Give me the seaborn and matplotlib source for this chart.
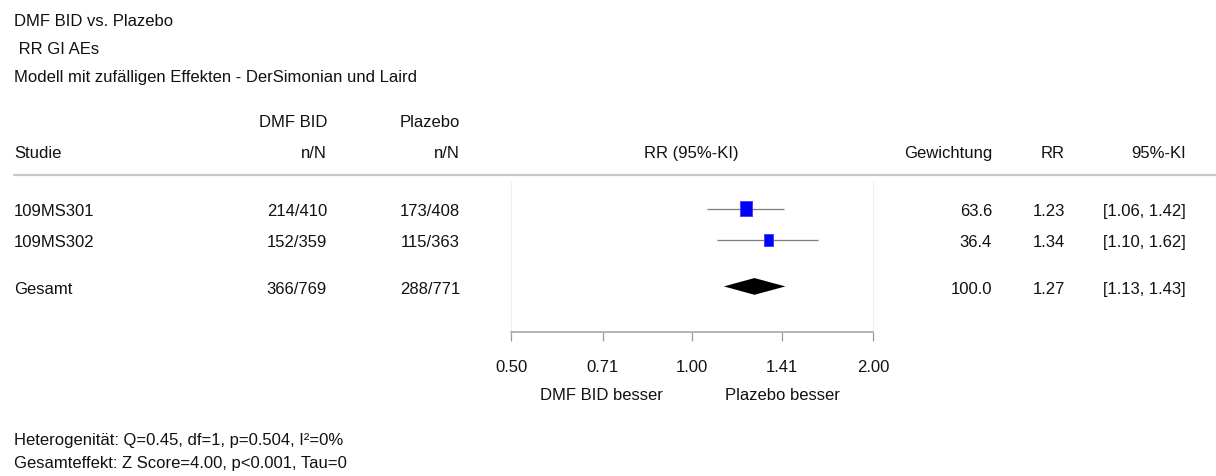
import matplotlib
matplotlib.use("Agg")
import matplotlib.pyplot as plt
from matplotlib.lines import Line2D
import numpy as np
import pandas as pd
import seaborn as sns

# ---- data ----
studies = ["109MS301", "109MS302"]
dmf_events = ["214/410", "152/359"]
plazebo_events = ["173/408", "115/363"]
weights = [63.6, 36.4]
rr = [1.23, 1.34]
ci_low = [1.06, 1.10]
ci_high = [1.42, 1.62]

pooled_label = "Gesamt"
pooled_dmf = "366/769"
pooled_plazebo = "288/771"
pooled_weight = 100.0
pooled_rr = 1.27
pooled_low = 1.13
pooled_high = 1.43

tick_values = [0.50, 0.71, 1.00, 1.41, 2.00]
tick_labels = ["0.50", "0.71", "1.00", "1.41", "2.00"]

title_lines = ["DMF BID vs. Plazebo", " RR GI AEs",
               "Modell mit zufälligen Effekten - DerSimonian und Laird"]
footer_lines = ["Heterogenität: Q=0.45, df=1, p=0.504, I²=0%",
                "Gesamteffekt: Z Score=4.00, p<0.001, Tau=0"]

# ---- style ----
sns.set_style("white")
plt.rcParams["font.family"] = ["Liberation Sans", "DejaVu Sans"]
FS = 12
W, H = 1216, 477

fig = plt.figure(figsize=(W / 100, H / 100), dpi=100)


def px(x, y):
    """Pixel position (from top-left) to figure fraction."""
    return x / W, 1 - y / H


def txt(x, y, s, ha="left"):
    fig.text(*px(x, y), s, ha=ha, va="baseline", fontsize=FS, color="#111111")


# titles
for i, line in enumerate(title_lines):
    txt(14, 26 + 28 * i, line)

# column headers
txt(327, 127, "DMF BID", "right")
txt(460, 127, "Plazebo", "right")
txt(14, 158, "Studie")
txt(327, 158, "n/N", "right")
txt(460, 158, "n/N", "right")
txt(691, 158, "RR (95%-KI)", "center")
txt(992, 158, "Gewichtung", "right")
txt(1065, 158, "RR", "right")
txt(1186, 158, "95%-KI", "right")

# header rule
fig.add_artist(Line2D([14 / W, 1.0], [1 - 176 / H] * 2, transform=fig.transFigure,
                      color="#c8c8c8", lw=1.6))

# table rows
row_base = [216, 247, 294]
names = studies + [pooled_label]
dmf_col = dmf_events + [pooled_dmf]
pla_col = plazebo_events + [pooled_plazebo]
w_col = weights + [pooled_weight]
rr_col = rr + [pooled_rr]
lo_col = ci_low + [pooled_low]
hi_col = ci_high + [pooled_high]
for yb, n, d, p, w, r, lo, hi in zip(row_base, names, dmf_col, pla_col,
                                     w_col, rr_col, lo_col, hi_col):
    txt(14, yb, n)
    txt(327, yb, d, "right")
    txt(460, yb, p, "right")
    txt(992, yb, f"{w:.1f}", "right")
    txt(1065, yb, f"{r:.2f}", "right")
    txt(1186, yb, f"[{lo:.2f}, {hi:.2f}]", "right")

# ---- forest panel ----
left, right, top, bottom = 511, 873, 182, 333
ax = fig.add_axes([left / W, 1 - bottom / H, (right - left) / W, (bottom - top) / H])
ax.set_xscale("log")
ax.set_xlim(tick_values[0], tick_values[-1])
ax.set_ylim(3.97, -0.9)

row_pos = [0, 1]
pooled_pos = 2.5

df = pd.DataFrame({"rr": rr, "pos": row_pos, "w": weights})
ax.hlines(row_pos, ci_low, ci_high, color="#7f7f7f", lw=0.9, zorder=1)
rect = [(-0.4, -0.5), (0.4, -0.5), (0.4, 0.5), (-0.4, 0.5), (-0.4, -0.5)]
sns.scatterplot(data=df, x="rr", y="pos", marker=rect, color="#0000ff",
                edgecolor="#3a3aff", linewidth=0.6, s=np.array(weights) * 1.8,
                ax=ax, zorder=2, legend=False)

dh = 0.27
ax.fill([pooled_low, pooled_rr, pooled_high, pooled_rr],
        [pooled_pos, pooled_pos - dh, pooled_pos, pooled_pos + dh],
        color="black", lw=0)

ax.set_xticks(tick_values)
ax.set_xticklabels(tick_labels)
ax.xaxis.set_minor_locator(matplotlib.ticker.NullLocator())
ax.set_yticks([])
ax.set_xlabel("")
ax.set_ylabel("")
ax.tick_params(axis="x", direction="out", length=6.5, width=0.9, color="#9a9a9a",
               pad=13, labelsize=FS, labelcolor="#111111", bottom=True)
for side in ("left", "right"):
    ax.spines[side].set_color("#f0f0f0")
    ax.spines[side].set_linewidth(0.9)
ax.spines["top"].set_visible(False)
ax.spines["bottom"].set_color("#a8a8a8")
ax.spines["bottom"].set_linewidth(1.2)
ax.patch.set_alpha(0)

txt(601, 400, "DMF BID besser", "center")
txt(782, 400, "Plazebo besser", "center")

# footer
for i, line in enumerate(footer_lines):
    txt(14, 445 + 23 * i, line)

fig.savefig("out.png", dpi=100, facecolor="white")
